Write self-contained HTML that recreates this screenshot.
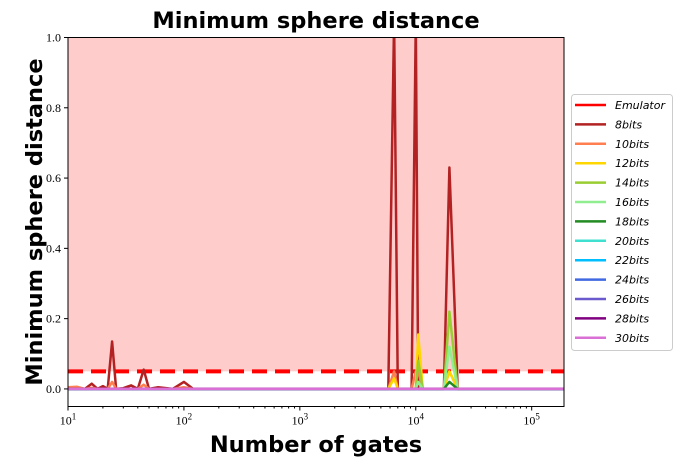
<!DOCTYPE html>
<html><head><meta charset="utf-8"><style>
body{margin:0;background:#fff;}
svg text{font-family:"Liberation Serif",serif;}
.b{font-family:"DejaVu Sans","Liberation Sans",sans-serif;font-weight:bold;}
.lg{font-family:"DejaVu Sans","Liberation Sans",sans-serif;font-style:italic;font-size:11px;}
</style></head><body>
<svg id="c" width="683" height="469" xmlns="http://www.w3.org/2000/svg">
<defs><clipPath id="pc"><rect x="68" y="37.5" width="496" height="369"/></clipPath></defs>
<text class="b" x="316" y="28" font-size="22.5" text-anchor="middle">Minimum sphere distance</text>
<text class="b" x="316" y="452" font-size="22.5" text-anchor="middle">Number of gates</text>
<text class="b" transform="translate(42,222) rotate(-90)" font-size="22.5" text-anchor="middle">Minimum sphere distance</text>
<g id="plot"></g>
<g id="legend"></g>
</svg>
<script>
const gates=[10,12,14,16,18,20,22,24,26,30,35,40,45,50,60,80,100,120,150,1000,5800,6500,7000,9200,10000,10500,11500,17500,19500,23000,190000];
const s8 =[0,0.003,0,0.015,0,0.008,0,0.135,0,0.002,0.01,0,0.055,0,0.005,0,0.02,0,0,0,0,1.05,0,0,1.05,0,0,0,0.63,0,0];
const s10=[0.005,0.006,0,0.003,0,0,0,0.02,0,0,0,0,0.012,0,0,0,0.005,0,0,0,0,0.05,0,0,0.05,0.05,0,0,0.05,0,0];
const s12=[0,0,0,0,0,0,0,0,0,0,0,0,0,0,0,0,0,0,0,0,0,0.03,0,0,0,0.155,0,0,0.05,0,0];
const s14=[0,0,0,0,0,0,0,0,0,0,0,0,0,0,0,0,0,0,0,0,0,0,0,0,0,0.08,0,0,0.22,0,0];
const s16=[0,0,0,0,0,0,0,0,0,0,0,0,0,0,0,0,0,0,0,0,0,0,0,0,0,0.02,0,0,0.12,0,0];
const s18=[0,0,0,0,0,0,0,0,0,0,0,0,0,0,0,0,0,0,0,0,0,0,0,0,0,0,0,0,0.02,0,0];
const zeros=gates.map(()=>0);
const names=["Emulator","8bits","10bits","12bits","14bits","16bits","18bits","20bits","22bits","24bits","26bits","28bits","30bits"];
const colors=["#ff0000","#b22222","#ff7f50","#ffd700","#9acd32","#90ee90","#228b22","#40e0d0","#00bfff","#4169e1","#6a5acd","#800080","#da70d6"];
const series=[null,s8,s10,s12,s14,s16,s18,zeros,zeros,zeros,zeros,zeros,zeros];
const xTicks=[1,2,3,4,5];const yTicks=[0,0.2,0.4,0.6,0.8,1.0];
const threshold=0.05;
const X0=68,X1=564,Y0=37.5,Y1=406.5,lmin=1,lmax=Math.log10(190000),ymin=-0.05,ymax=1.0;
const xs=v=>X0+(Math.log10(v)-lmin)/(lmax-lmin)*(X1-X0);
const ys=v=>Y1-(v-ymin)/(ymax-ymin)*(Y1-Y0);
const NS="http://www.w3.org/2000/svg";
function mk(t,a,p){const e=document.createElementNS(NS,t);for(const k in a)e.setAttribute(k,a[k]);p.appendChild(e);return e;}
const P=document.getElementById('plot');
let r=mk('rect',{x:X0,y:Y0,width:X1-X0,height:ys(threshold)-Y0,fill:'#ffcccc'},P);


const g=mk('g',{'clip-path':'url(#pc)'},P);
const th=mk('line',{x1:X0,x2:X1,y1:ys(threshold),y2:ys(threshold),stroke:'#ff0000','stroke-width':4,'stroke-dasharray':'15,8'},g);


for(let i=1;i<series.length;i++){
 const d=gates.map((v,j)=>(j?'L':'M')+xs(v).toFixed(1)+','+ys(series[i][j]).toFixed(1)).join('');
 const pl=mk('path',{d:d,fill:'none',stroke:colors[i],'stroke-width':2.5,'stroke-linejoin':'round'},g);
 
 
}
const fr=mk('rect',{x:X0,y:Y0,width:X1-X0,height:Y1-Y0,fill:'none',stroke:'#000','stroke-width':1},P);


yTicks.forEach(v=>{const y=ys(v);mk('line',{x1:X0-4,x2:X0,y1:y,y2:y,stroke:'#000'},P);
 const t=mk('text',{x:X0-7,y:y+4,'font-size':12,'text-anchor':'end'},P);t.textContent=v.toFixed(1);
 
 });
xTicks.forEach(e=>{const x=xs(Math.pow(10,e));mk('line',{x1:x,x2:x,y1:Y1,y2:Y1+4,stroke:'#000'},P);
 for(let m=2;m<10;m++){const xm=xs(m*Math.pow(10,e));if(xm<X1)mk('line',{x1:xm,x2:xm,y1:Y1,y2:Y1+2,stroke:'#000'},P);}
 const t=mk('text',{x:x,y:Y1+18,'font-size':12,'text-anchor':'middle'},P);t.innerHTML='10<tspan dy="-5" font-size="9">'+e+'</tspan>';
 
 });
const L=document.getElementById('legend');
const lb=mk('rect',{x:571.5,y:94.5,width:101,height:256,rx:3,fill:'#fff',stroke:'#ccc'},L);


names.forEach((n,i)=>{const y=105+i*19.4;
 const gg=mk('g',{},L);
 
 
 mk('line',{x1:575,x2:606,y1:y,y2:y,stroke:colors[i],'stroke-width':2.5},gg);
 const t=mk('text',{x:615,y:y+4,class:'lg'},gg);t.textContent=n;});
</script>
</body></html>
